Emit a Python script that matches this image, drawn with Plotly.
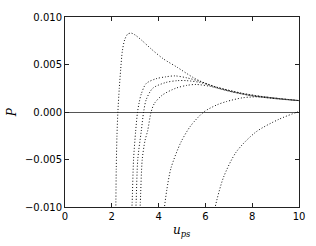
import plotly.graph_objects as go

# Data (u_ps, P)
c1_u = [2.17, 2.19, 2.22, 2.26, 2.32, 2.38, 2.45, 2.55, 2.68, 2.83, 3.0, 3.3, 3.7, 4.2, 4.8, 5.5, 6.2, 7.0, 8.0, 9.0, 10.0]
c1_p = [-0.0105, -0.0060, -0.0025, 0.0000, 0.0025, 0.0045, 0.0064, 0.0076, 0.0082, 0.0083, 0.0081, 0.0075, 0.0066, 0.0056, 0.0047, 0.0036, 0.0028, 0.0022, 0.0017, 0.0014, 0.0012]

c2_u = [2.85, 2.87, 2.93, 3.02, 3.10, 3.17, 3.26, 3.47, 3.89, 4.3, 4.7, 5.2, 5.8, 6.5, 7.5, 8.5, 10.0]
c2_p = [-0.0105, -0.0095, -0.0050, -0.0020, 0.0000, 0.0010, 0.0019, 0.0030, 0.0035, 0.0037, 0.0038, 0.0036, 0.0032, 0.0026, 0.0020, 0.0016, 0.0012]

c3_u = [3.02, 3.04, 3.11, 3.26, 3.36, 3.47, 3.75, 4.3, 4.8, 5.2, 5.8, 6.5, 7.5, 8.5, 10.0]
c3_p = [-0.0105, -0.0095, -0.0050, -0.0020, 0.0000, 0.0013, 0.0025, 0.0031, 0.0033, 0.0033, 0.0031, 0.0026, 0.0020, 0.0016, 0.0012]

c4_u = [3.20, 3.22, 3.30, 3.42, 3.53, 3.68, 3.82, 4.17, 4.73, 5.2, 5.6, 6.2, 7.0, 8.0, 9.0, 10.0]
c4_p = [-0.0105, -0.0095, -0.0050, -0.0030, -0.0020, 0.0000, 0.0009, 0.0018, 0.0025, 0.0028, 0.0029, 0.0027, 0.0022, 0.0017, 0.0014, 0.0012]

c5_u = [4.22, 4.25, 4.35, 4.53, 4.95, 5.37, 5.93, 6.49, 6.9, 7.6, 8.4, 9.2, 10.0]
c5_p = [-0.0105, -0.0100, -0.0082, -0.0059, -0.0032, -0.00146, 0.0000, 0.00075, 0.0011, 0.0015, 0.0016, 0.0014, 0.0012]

c6_u = [6.40, 6.42, 6.77, 7.32, 8.16, 9.13, 9.9, 10.0]
c6_p = [-0.0105, -0.0100, -0.0069, -0.0042, -0.0021, -0.00078, -0.00003, 0.00005]

curves = [(c1_u, c1_p), (c2_u, c2_p), (c3_u, c3_p), (c4_u, c4_p), (c5_u, c5_p), (c6_u, c6_p)]

x_ticks = [0, 2, 4, 6, 8, 10]
y_ticks = [-0.010, -0.005, 0.000, 0.005, 0.010]
y_tick_labels = ["\u22120.010", "\u22120.005", "0.000", "0.005", "0.010"]

fig = go.Figure()
for u, p in curves:
    fig.add_trace(go.Scatter(
        x=u, y=p, mode="lines",
        line=dict(color="#111", width=1, dash="1px,2px", shape="spline", smoothing=0.8),
        showlegend=False, hoverinfo="skip",
    ))

axis_common = dict(
    showgrid=False, showline=True, linecolor="#222", linewidth=1, mirror="ticks",
    ticks="inside", ticklen=4, tickwidth=1, tickcolor="#222",
    tickfont=dict(family="DejaVu Sans", size=10, color="black"),
)

fig.update_xaxes(range=[0, 10], tickvals=x_ticks, zeroline=False, **axis_common)
fig.update_yaxes(range=[-0.010, 0.010], tickvals=y_ticks, ticktext=y_tick_labels,
                 zeroline=True, zerolinecolor="#555", zerolinewidth=1, **axis_common)

fig.add_annotation(text="<i>u</i><sub><i>ps</i></sub>", xref="paper", yref="paper",
                   x=0.5, y=-0.125, showarrow=False, yanchor="middle", xanchor="center",
                   font=dict(family="DejaVu Serif", size=12, color="black"))
fig.add_annotation(text="<i>P</i>", xref="paper", yref="paper",
                   x=-0.225, y=0.5, showarrow=False, textangle=-90, xanchor="center", yanchor="middle",
                   font=dict(family="DejaVu Serif", size=12, color="black"))

fig.update_layout(
    width=316, height=246,
    margin=dict(l=65, r=12, t=11, b=39),
    paper_bgcolor="white", plot_bgcolor="white",
)

# Remove the default page margin so the figure sits at the window's top-left corner.
fig.write_html("out.html", config={"displayModeBar": False},
               post_script="document.body.style.margin='0';")
